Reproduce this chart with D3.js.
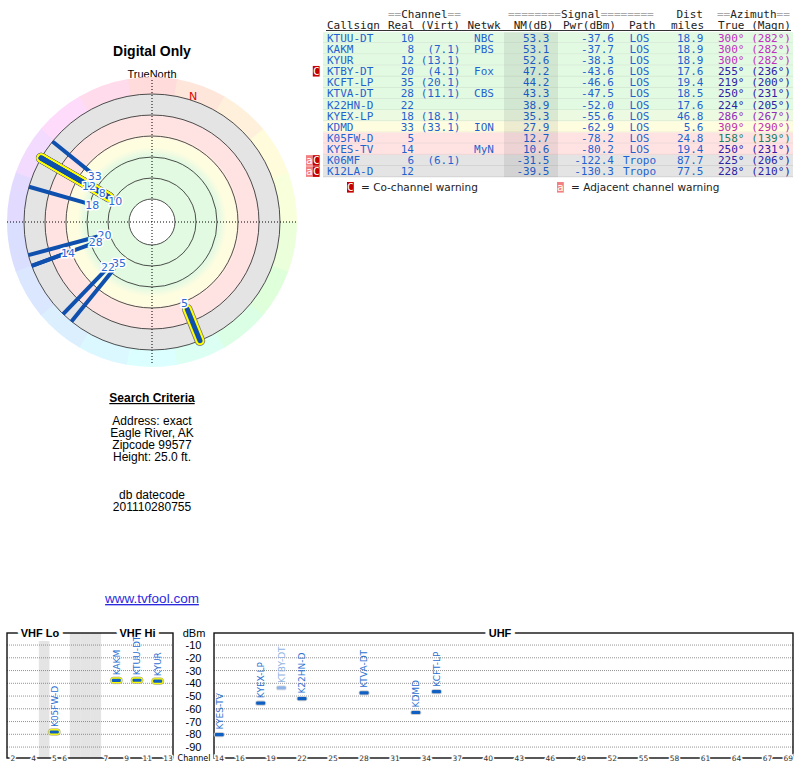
<!DOCTYPE html>
<html>
<head>
<meta charset="utf-8">
<script src="https://cdn.jsdelivr.net/npm/d3@7"></script>
<style>
body { margin: 0; background: #fff; }
svg { display: block; }
</style>
</head>
<body>
<script>
// station table
var callsigns = ["KTUU-DT", "KAKM", "KYUR", "KTBY-DT", "KCFT-LP", "KTVA-DT", "K22HN-D", "KYEX-LP", "KDMD", "K05FW-D", "KYES-TV", "K06MF", "K12LA-D"];
var realCh = [10, 8, 12, 20, 35, 28, 22, 18, 33, 5, 14, 6, 12];
var virtCh = ["", "7.1", "13.1", "4.1", "20.1", "11.1", "", "18.1", "33.1", "", "", "6.1", ""];
var networks = ["NBC", "PBS", "", "Fox", "", "CBS", "", "", "ION", "", "MyN", "", ""];
var nmDb = [53.3, 53.1, 52.6, 47.2, 44.2, 43.3, 38.9, 35.3, 27.9, 12.7, 10.6, -31.5, -39.5];
var pwrDbm = [-37.6, -37.7, -38.3, -43.6, -46.6, -47.5, -52.0, -55.6, -62.9, -78.2, -80.2, -122.4, -130.3];
var paths = ["LOS", "LOS", "LOS", "LOS", "LOS", "LOS", "LOS", "LOS", "LOS", "LOS", "LOS", "Tropo", "Tropo"];
var distMiles = [18.9, 18.9, 18.9, 17.6, 19.4, 18.5, 17.6, 46.8, 5.6, 24.8, 19.4, 87.7, 77.5];
var azTrue = [300, 300, 300, 255, 219, 250, 224, 286, 309, 158, 250, 225, 228];
var azMagn = [282, 282, 282, 236, 200, 231, 205, 267, 290, 139, 231, 206, 210];
var warnings = ["", "", "", "C", "", "", "", "", "", "", "", "aC", "aC"];

var dbmTicks = [-10, -20, -30, -40, -50, -60, -70, -80, -90];
var vhfTickLabels = [2, 4, 5, 6, 7, 9, 11, 13];
var uhfTickLabels = [14, 16, 19, 22, 25, 28, 31, 34, 37, 40, 43, 46, 49, 52, 55, 58, 61, 64, 67, 69];
// VHF slots: "g" entries are the gray gaps between channel groups
var vhfSlots = ["2", "3", "4", "g1", "5", "6", "g2", "g3", "g4", "7", "8", "9", "10", "11", "12", "13"];
var uhfChannels = d3.range(14, 70);

var searchLines = ["Address: exact", "Eagle River, AK", "Zipcode 99577", "Height: 25.0 ft."];
var dbLines = ["db datecode", "201110280755"];

var stations = callsigns.map(function(c, i) {
    return {call: c, real: realCh[i], virt: virtCh[i], net: networks[i], nm: nmDb[i],
            pwr: pwrDbm[i], path: paths[i], dist: distMiles[i], az: azTrue[i],
            magn: azMagn[i], warn: warnings[i]};
});

var sans = "'Liberation Sans', Arial, sans-serif",
    dvs = "'DejaVu Sans', sans-serif",
    mono = "'DejaVu Sans Mono', monospace",
    blue = "#1f63d0",
    lineBlue = "#0f4fae";

var svg = d3.select("body").append("svg")
    .attr("width", 800)
    .attr("height", 768);
var defs = svg.append("defs");

var bandColor = d3.scaleLinear()
    .domain([0, 2, 18, 22, 30, 38])
    .range(["#e4e4e4", "#ffe3e3", "#ffe3e3", "#fffde0", "#fffde0", "#e2f9e2"])
    .clamp(true);
var azColor = d3.scaleLinear()
    .domain([0, 90, 158, 200, 255, 300, 360])
    .range(["#c03030", "#808020", "#208060", "#2828a0", "#3020a8", "#c030c0", "#c03030"]);
var ringHue = d3.scaleLinear()
    .domain([0, 90, 180, 270, 315, 360])
    .range([0, 80, 180, 240, 300, 360]);

// ---------- left panel ----------
var cx = 152, cy = 222, rOuter = 128;
svg.append("text").attr("x", cx).attr("y", 56).attr("text-anchor", "middle")
    .style("font", "bold 14px " + sans).text("Digital Only");
svg.append("text").attr("x", cx).attr("y", 78).attr("text-anchor", "middle")
    .style("font", "11px " + sans).text("TrueNorth");

var rScale = d3.scaleLinear().domain([0, 60]).range([108, 42]);

var radar = svg.append("g").attr("transform", "translate(" + cx + "," + cy + ")");

var arc = d3.arc().innerRadius(rOuter).outerRadius(145);
radar.append("g").selectAll("path")
    .data(d3.range(18))
    .enter().append("path")
    .attr("d", function(i) {
        return arc({startAngle: (i * 20 - 10) * Math.PI / 180, endAngle: (i * 20 + 10.5) * Math.PI / 180});
    })
    .attr("fill", function(i) { return d3.hsl(ringHue(i * 20), 1, 0.93); });

var grad = defs.append("radialGradient").attr("id", "bands")
    .attr("gradientUnits", "userSpaceOnUse")
    .attr("cx", 0).attr("cy", 0).attr("r", rOuter);
d3.range(62, -14, -0.5).forEach(function(nm) {
    grad.append("stop")
        .attr("offset", Math.max(0, Math.min(1, rScale(nm) / rOuter)))
        .attr("stop-color", bandColor(nm));
});
radar.append("circle").attr("r", rOuter).attr("fill", "url(#bands)");
radar.append("circle").attr("r", 23).attr("fill", "#fff");

radar.append("g").selectAll("circle")
    .data(d3.range(6).map(function(i) { return 23 + i * 21; }))
    .enter().append("circle")
    .attr("r", function(d) { return d; })
    .attr("fill", "none")
    .attr("stroke", "#222")
    .attr("stroke-width", 0.8);

radar.append("line").attr("x1", -145).attr("x2", 145).attr("y1", 0).attr("y2", 0)
    .attr("stroke", "#000").attr("stroke-dasharray", "1,2");
radar.append("line").attr("x1", 0).attr("x2", 0).attr("y1", -142).attr("y2", 143)
    .attr("stroke", "#000").attr("stroke-dasharray", "1,2");

function polar(az, r) {
    var a = az * Math.PI / 180;
    return [r * Math.sin(a), -r * Math.cos(a)];
}

var decl = azTrue[0] - azMagn[0];
var np = polar(decl, 133);
radar.append("text").attr("x", np[0]).attr("y", np[1] + 4).attr("text-anchor", "middle")
    .attr("fill", "#e00000").style("font", "11px " + dvs).text("N");

var onRadar = stations.filter(function(d) { return d.nm > 0; });
var uhfLines = onRadar.filter(function(d) { return d.real > 13; });
var vhfLines = onRadar.filter(function(d) { return d.real <= 13; });

function lineEnds(sel) {
    return sel
        .attr("x1", function(d) { return polar(d.az, rOuter)[0]; })
        .attr("y1", function(d) { return polar(d.az, rOuter)[1]; })
        .attr("x2", function(d) { return polar(d.az, rScale(d.nm))[0]; })
        .attr("y2", function(d) { return polar(d.az, rScale(d.nm))[1]; });
}

lineEnds(radar.append("g").selectAll("line").data(uhfLines).enter().append("line"))
    .attr("stroke", lineBlue).attr("stroke-width", 4);

var vg = radar.append("g");
[["#777", 10.5], ["#ffff00", 9], [lineBlue, 5]].forEach(function(s) {
    lineEnds(vg.append("g").selectAll("line").data(vhfLines).enter().append("line"))
        .attr("stroke", s[0]).attr("stroke-width", s[1]).attr("stroke-linecap", "round");
});

// channel labels, pushed outward until they clear the labels already placed
var placed = [];
onRadar.slice().sort(function(a, b) { return b.nm - a.nm; }).forEach(function(d) {
    var r = rScale(d.nm) - 7, p = polar(d.az, r);
    while (placed.some(function(q) {
        var gap = Math.abs(q.az - d.az) < 3 ? 15 : 11.5;
        return Math.hypot(q.p[0] - p[0], q.p[1] - p[1]) < gap;
    })) {
        r += 0.5;
        p = polar(d.az, r);
    }
    placed.push({az: d.az, p: p, label: d.real});
});
radar.append("g").selectAll("text")
    .data(placed)
    .enter().append("text")
    .attr("x", function(d) { return d.p[0]; })
    .attr("y", function(d) { return d.p[1] + 4; })
    .attr("text-anchor", "middle")
    .attr("fill", "#2a6ad4")
    .attr("stroke", "#fff").attr("stroke-width", 3).attr("paint-order", "stroke")
    .style("font", "11px " + dvs)
    .text(function(d) { return d.label; });

// search criteria
svg.append("text").attr("x", cx).attr("y", 402).attr("text-anchor", "middle")
    .style("font", "bold 12px " + sans).style("text-decoration", "underline")
    .text("Search Criteria");
svg.append("g").selectAll("text").data(searchLines).enter().append("text")
    .attr("x", cx).attr("y", function(d, i) { return 425 + i * 12; })
    .attr("text-anchor", "middle").style("font", "12px " + sans)
    .text(function(d) { return d; });
svg.append("g").selectAll("text").data(dbLines).enter().append("text")
    .attr("x", cx).attr("y", function(d, i) { return 498.5 + i * 12; })
    .attr("text-anchor", "middle").style("font", "12px " + sans)
    .text(function(d) { return d; });
svg.append("text").attr("x", cx).attr("y", 603).attr("text-anchor", "middle")
    .attr("fill", "#2b2bdd").style("font", "13.5px " + sans).style("text-decoration", "underline")
    .text("www.tvfool.com");

// ---------- table ----------
var table = svg.append("g").style("font", "11px " + mono);
var rowTop = 32.2, rowH = 11.15, tableL = 323, tableR = 793;

function headText(x, y, anchor, parts) {
    var t = table.append("text").attr("x", x).attr("y", y).attr("text-anchor", anchor);
    parts.forEach(function(p, i) {
        t.append("tspan").attr("fill", i % 2 ? "#222" : "#aaa").text(p);
    });
}
headText(388, 18, "start", ["==", "Channel", "=="]);
headText(508, 18, "start", ["========", "Signal", "========"]);
headText(676.5, 18, "start", ["", "Dist"]);
headText(717, 18, "start", ["==", "Azimuth", "=="]);

var head2 = [["Callsign", 327, "start"], ["Real", 388, "start"], ["(Virt)", 460, "end"],
             ["Netwk", 484, "middle"], ["NM(dB)", 553.5, "end"], ["Pwr(dBm)", 563, "start"],
             ["Path", 629, "start"], ["miles", 671, "start"], ["True", 718, "start"], ["(Magn)", 791, "end"]];
table.append("g").selectAll("text").data(head2).enter().append("text")
    .attr("x", function(d) { return d[1]; }).attr("y", 28.5)
    .attr("text-anchor", function(d) { return d[2]; })
    .attr("fill", "#222").text(function(d) { return d[0]; });
table.append("line").attr("x1", 326).attr("x2", 791).attr("y1", 30.5).attr("y2", 30.5)
    .attr("stroke", "#333");

var rows = table.append("g").selectAll("g").data(stations).enter().append("g")
    .attr("transform", function(d, i) { return "translate(0," + (rowTop + i * rowH) + ")"; });
rows.append("rect").attr("x", tableL).attr("width", tableR - tableL).attr("height", rowH)
    .attr("fill", function(d) { return bandColor(d.nm); });
rows.append("line").attr("x1", tableL).attr("x2", tableR).attr("y1", rowH - 0.5).attr("y2", rowH - 0.5)
    .attr("stroke", function(d) { return d3.color(bandColor(d.nm)).darker(0.25); })
    .attr("stroke-width", 0.8);

table.append("rect").attr("x", 504).attr("width", 54).attr("y", rowTop)
    .attr("height", rowH * stations.length).attr("fill", "rgba(0,0,0,0.07)");

var cells = [
    [function(d) { return d.call; }, 327, "start"],
    [function(d) { return d.real; }, 414, "end"],
    [function(d) { return d.virt ? "(" + d.virt + ")" : ""; }, 460.5, "end"],
    [function(d) { return d.net; }, 484, "middle"],
    [function(d) { return d.nm.toFixed(1); }, 549.5, "end"],
    [function(d) { return d.pwr.toFixed(1); }, 614, "end"],
    [function(d) { return d.path; }, 639.5, "middle"],
    [function(d) { return d.dist.toFixed(1); }, 703.5, "end"]
];
cells.forEach(function(c) {
    rows.append("text").attr("x", c[1]).attr("y", 9.4).attr("text-anchor", c[2])
        .attr("fill", blue).text(c[0]);
});
rows.append("text").attr("x", 718).attr("y", 9.4)
    .attr("fill", function(d) { return azColor(d.az); })
    .text(function(d) { return d.az + "\u00b0"; });
rows.append("text").attr("x", 791).attr("y", 9.4).attr("text-anchor", "end")
    .attr("fill", function(d) { return azColor(d.az); })
    .text(function(d) { return "(" + d.magn + "\u00b0)"; });

function warnBox(g, x, y, ch) {
    g.append("rect").attr("x", x).attr("y", y).attr("width", 6.8).attr("height", 10.6)
        .attr("fill", ch === "C" ? "#c40000" : "#f28080");
    g.append("text").attr("x", x + 3.4).attr("y", y + 8.6).attr("text-anchor", "middle")
        .attr("fill", "#fff").style("font", "11px " + mono).text(ch);
}
rows.each(function(d) {
    var g = d3.select(this), chars = d.warn.split("");
    chars.forEach(function(ch, k) {
        warnBox(g, 312.8 - (chars.length - 1 - k) * 6.8, 0.3, ch);
    });
});

warnBox(svg, 347, 182, "C");
svg.append("text").attr("x", 361).attr("y", 191).style("font", "10.5px " + dvs)
    .attr("fill", "#222").text("= Co-channel warning");
warnBox(svg, 557, 182, "a");
svg.append("text").attr("x", 571).attr("y", 191).style("font", "10.5px " + dvs)
    .attr("fill", "#222").text("= Adjacent channel warning");

// ---------- spectrum chart ----------
var spec = svg.append("g");
var yScale = d3.scaleLinear().domain([0, -100]).range([632.3, 759.8]);
var frameTop = 633, axisY = 758;
var vhfX = d3.scaleBand().domain(vhfSlots).range([7.8, 173.2]);
var uhfX = d3.scaleBand().domain(uhfChannels).range([214.1, 793.4]);

function chX(ch) {
    return ch <= 13 ? vhfX(String(ch)) + vhfX.bandwidth() / 2 : uhfX(ch) + uhfX.bandwidth() / 2;
}

spec.append("g").selectAll("rect")
    .data(vhfSlots.filter(function(s) { return s[0] === "g"; }))
    .enter().append("rect")
    .attr("x", function(s) { return vhfX(s); })
    .attr("width", vhfX.bandwidth() + 0.3)
    .attr("y", frameTop).attr("height", axisY - frameTop)
    .attr("fill", "#e4e4e4");

var frames = [[7, 173], [214, 793]];
frames.forEach(function(f) {
    spec.append("g").selectAll("line").data(dbmTicks).enter().append("line")
        .attr("x1", f[0]).attr("x2", f[1])
        .attr("y1", function(d) { return yScale(d); })
        .attr("y2", function(d) { return yScale(d); })
        .attr("stroke", "#777").attr("stroke-width", 0.8).attr("stroke-dasharray", "1,1");
    spec.append("rect").attr("x", f[0]).attr("y", frameTop)
        .attr("width", f[1] - f[0]).attr("height", axisY - frameTop)
        .attr("fill", "none").attr("stroke", "#111").attr("stroke-width", 1.4);
});

[["VHF Lo", 40], ["VHF Hi", 137.5], ["UHF", 500]].forEach(function(t) {
    spec.append("text").attr("x", t[1]).attr("y", frameTop + 4).attr("text-anchor", "middle")
        .attr("stroke", "#fff").attr("stroke-width", 8).attr("paint-order", "stroke")
        .style("font", "bold 11px " + sans).text(t[0]);
});

spec.append("text").attr("x", 194).attr("y", frameTop + 4).attr("text-anchor", "middle")
    .style("font", "11px " + sans).text("dBm");
spec.append("g").selectAll("text").data(dbmTicks).enter().append("text")
    .attr("x", 193.5).attr("y", function(d) { return yScale(d) + 4; })
    .attr("text-anchor", "middle").style("font", "11px " + sans)
    .text(function(d) { return d; });
spec.append("text").attr("x", 194).attr("y", axisY + 3).attr("text-anchor", "middle")
    .style("font", "8px " + dvs).text("Channel");

spec.append("g").selectAll("text").data(vhfTickLabels.concat(uhfTickLabels)).enter().append("text")
    .attr("x", function(d) { return chX(d); }).attr("y", axisY + 2.6)
    .attr("text-anchor", "middle").attr("fill", "#333")
    .attr("stroke", "#fff").attr("stroke-width", 3).attr("paint-order", "stroke")
    .style("font", "7.5px " + dvs)
    .text(function(d) { return d; });

var onSpec = stations.filter(function(d) { return d.pwr > -100; });
var marks = spec.append("g").selectAll("g").data(onSpec).enter().append("g")
    .attr("transform", function(d) { return "translate(" + chX(d.real) + "," + yScale(d.pwr) + ")"; });
marks.append("rect")
    .attr("x", function(d) { return d.real <= 13 ? -6 : -5.5; })
    .attr("y", function(d) { return d.real <= 13 ? -3.3 : -2.6; })
    .attr("width", function(d) { return d.real <= 13 ? 12 : 11; })
    .attr("height", function(d) { return d.real <= 13 ? 6.6 : 5.2; })
    .attr("rx", 3)
    .attr("fill", function(d) { return d.real <= 13 ? "#ffff00" : (d.warn.indexOf("C") >= 0 ? "#e6e6e6" : "#cfcfcf"); })
    .attr("stroke", function(d) { return d.real <= 13 ? "#999" : "none"; })
    .attr("stroke-width", 0.6);
marks.append("rect").attr("x", -4.5).attr("y", -1.6).attr("width", 9).attr("height", 3.2).attr("rx", 1)
    .attr("fill", function(d) { return d.warn.indexOf("C") >= 0 ? "#8fb3e6" : "#1060c4"; });
marks.append("text")
    .attr("transform", "translate(3.3,-5) rotate(-90)")
    .attr("fill", function(d) { return d.warn.indexOf("C") >= 0 ? "#8fb3e6" : "#2b6fd2"; })
    .style("font", "9px " + dvs)
    .text(function(d) { return d.call; });
</script>
</body>
</html>
